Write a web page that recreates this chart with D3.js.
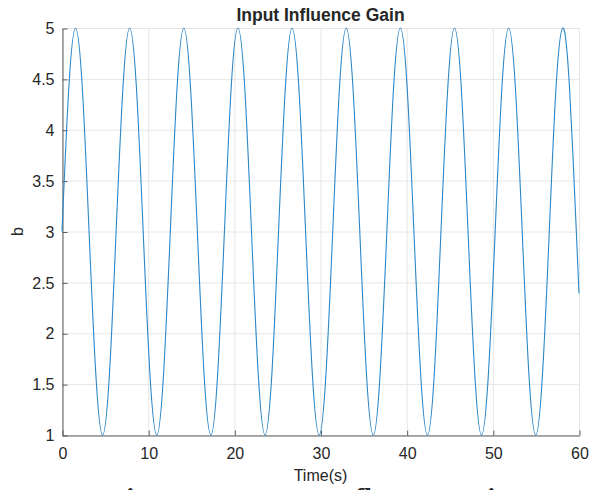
<!DOCTYPE html>
<html>
<head>
<meta charset="utf-8">
<script src="https://cdn.jsdelivr.net/npm/d3@7"></script>
<style>
  body { margin: 0; background: #fff; overflow: hidden; }
  text { font-family: "Liberation Sans", Arial, sans-serif; fill: #262626; }
</style>
</head>
<body>
<div id="chart"></div>
<script>
// values (peaks, troughs, crossings and the points between)
var time = [
  0, 0.79, 1.57, 2.36, 3.14, 3.93, 4.71, 5.50,
  6.28, 7.07, 7.85, 8.64, 9.42, 10.21, 11.00, 11.78,
  12.57, 13.35, 14.14, 14.92, 15.71, 16.49, 17.28, 18.06,
  18.85, 19.63, 20.42, 21.21, 21.99, 22.78, 23.56, 24.35,
  25.13, 25.92, 26.70, 27.49, 28.27, 29.06, 29.85, 30.63,
  31.42, 32.20, 32.99, 33.77, 34.56, 35.34, 36.13, 36.91,
  37.70, 38.48, 39.27, 40.06, 40.84, 41.63, 42.41, 43.20,
  43.98, 44.77, 45.55, 46.34, 47.12, 47.91, 48.69, 49.48,
  50.27, 51.05, 51.84, 52.62, 53.41, 54.19, 54.98, 55.76,
  56.55, 57.33, 58.12, 58.90, 59.69, 60
];
var gainB = [
  3, 4.41, 5, 4.41, 3, 1.59, 1, 1.59,
  3, 4.41, 5, 4.41, 3, 1.59, 1, 1.59,
  3, 4.41, 5, 4.41, 3, 1.59, 1, 1.59,
  3, 4.41, 5, 4.41, 3, 1.59, 1, 1.59,
  3, 4.41, 5, 4.41, 3, 1.59, 1, 1.59,
  3, 4.41, 5, 4.41, 3, 1.59, 1, 1.59,
  3, 4.41, 5, 4.41, 3, 1.59, 1, 1.59,
  3, 4.41, 5, 4.41, 3, 1.59, 1, 1.59,
  3, 4.41, 5, 4.41, 3, 1.59, 1, 1.59,
  3, 4.41, 5, 4.41, 3, 2.39
];
var xTicks = [0, 10, 20, 30, 40, 50, 60];
var yTicks = [1, 1.5, 2, 2.5, 3, 3.5, 4, 4.5, 5];

var svgWidth = 589;
var svgHeight = 490;
var margin = { top: 28, right: 10, bottom: 55, left: 62 };
var width = svgWidth - margin.left - margin.right;
var height = svgHeight - margin.top - margin.bottom;

var svg = d3.select("#chart")
  .append("svg")
  .attr("width", svgWidth)
  .attr("height", svgHeight);

var chartGroup = svg.append("g")
  .attr("transform", `translate(${margin.left}, ${margin.top})`);

var xScale = d3.scaleLinear().domain([0, 60]).range([0, width]);
var yScale = d3.scaleLinear().domain([1, 5]).range([height, 0]);

// grid
chartGroup.append("g")
  .selectAll("line")
  .data(xTicks)
  .enter()
  .append("line")
  .attr("x1", d => xScale(d) + 0.5)
  .attr("x2", d => xScale(d) + 0.5)
  .attr("y1", 0)
  .attr("y2", height)
  .attr("stroke", "#e6e6e6");

chartGroup.append("g")
  .selectAll("line")
  .data(yTicks)
  .enter()
  .append("line")
  .attr("x1", 0)
  .attr("x2", width)
  .attr("y1", d => yScale(d) + 0.5)
  .attr("y2", d => yScale(d) + 0.5)
  .attr("stroke", "#e6e6e6");

// axes, ticks pointing inward
var fmt = d3.format("~g");
var bottomAxis = d3.axisBottom(xScale).tickValues(xTicks).tickFormat(fmt)
  .tickSizeInner(-5).tickSizeOuter(0).tickPadding(12);
var leftAxis = d3.axisLeft(yScale).tickValues(yTicks).tickFormat(fmt)
  .tickSizeInner(-5).tickSizeOuter(0).tickPadding(8);

var xAxisG = chartGroup.append("g")
  .attr("transform", `translate(0.5, ${height + 0.5})`)
  .call(bottomAxis);

var yAxisG = chartGroup.append("g")
  .attr("transform", "translate(0.5, 0.5)")
  .call(leftAxis);

[xAxisG, yAxisG].forEach(function (g) {
  g.selectAll("path, line").attr("stroke", "#5a5a5a");
  g.selectAll("text")
    .style("font-size", "16px")
    .style("font-family", "'Liberation Sans', Arial, sans-serif")
    .attr("fill", "#262626");
});

// curve
var line = d3.line()
  .x((d, i) => xScale(time[i]))
  .y(d => yScale(d))
  .curve(d3.curveNatural);

chartGroup.append("path")
  .datum(gainB)
  .attr("d", line)
  .attr("fill", "none")
  .attr("stroke", "#2a86c8")
  .attr("stroke-width", 1.1);

// labels
svg.append("text")
  .attr("x", margin.left + width / 2)
  .attr("y", 21)
  .attr("text-anchor", "middle")
  .style("font-size", "17.5px")
  .style("font-weight", "bold")
  .text("Input Influence Gain");

svg.append("text")
  .attr("x", margin.left + width / 2)
  .attr("y", 481)
  .attr("text-anchor", "middle")
  .style("font-size", "16px")
  .text("Time(s)");

svg.append("text")
  .attr("transform", `translate(23, ${margin.top + height / 2}) rotate(-90)`)
  .attr("text-anchor", "middle")
  .style("font-size", "16px")
  .text("b");

// caption of the page below, cut off by the crop
svg.append("text")
  .attr("x", 310)
  .attr("y", 508.5)
  .attr("text-anchor", "middle")
  .style("font-family", "'Liberation Serif', 'Times New Roman', serif")
  .style("font-size", "29px")
  .style("font-weight", "bold")
  .attr("fill", "#111")
  .text("Figure 3.5: Input Influence Gain");
</script>
</body>
</html>
